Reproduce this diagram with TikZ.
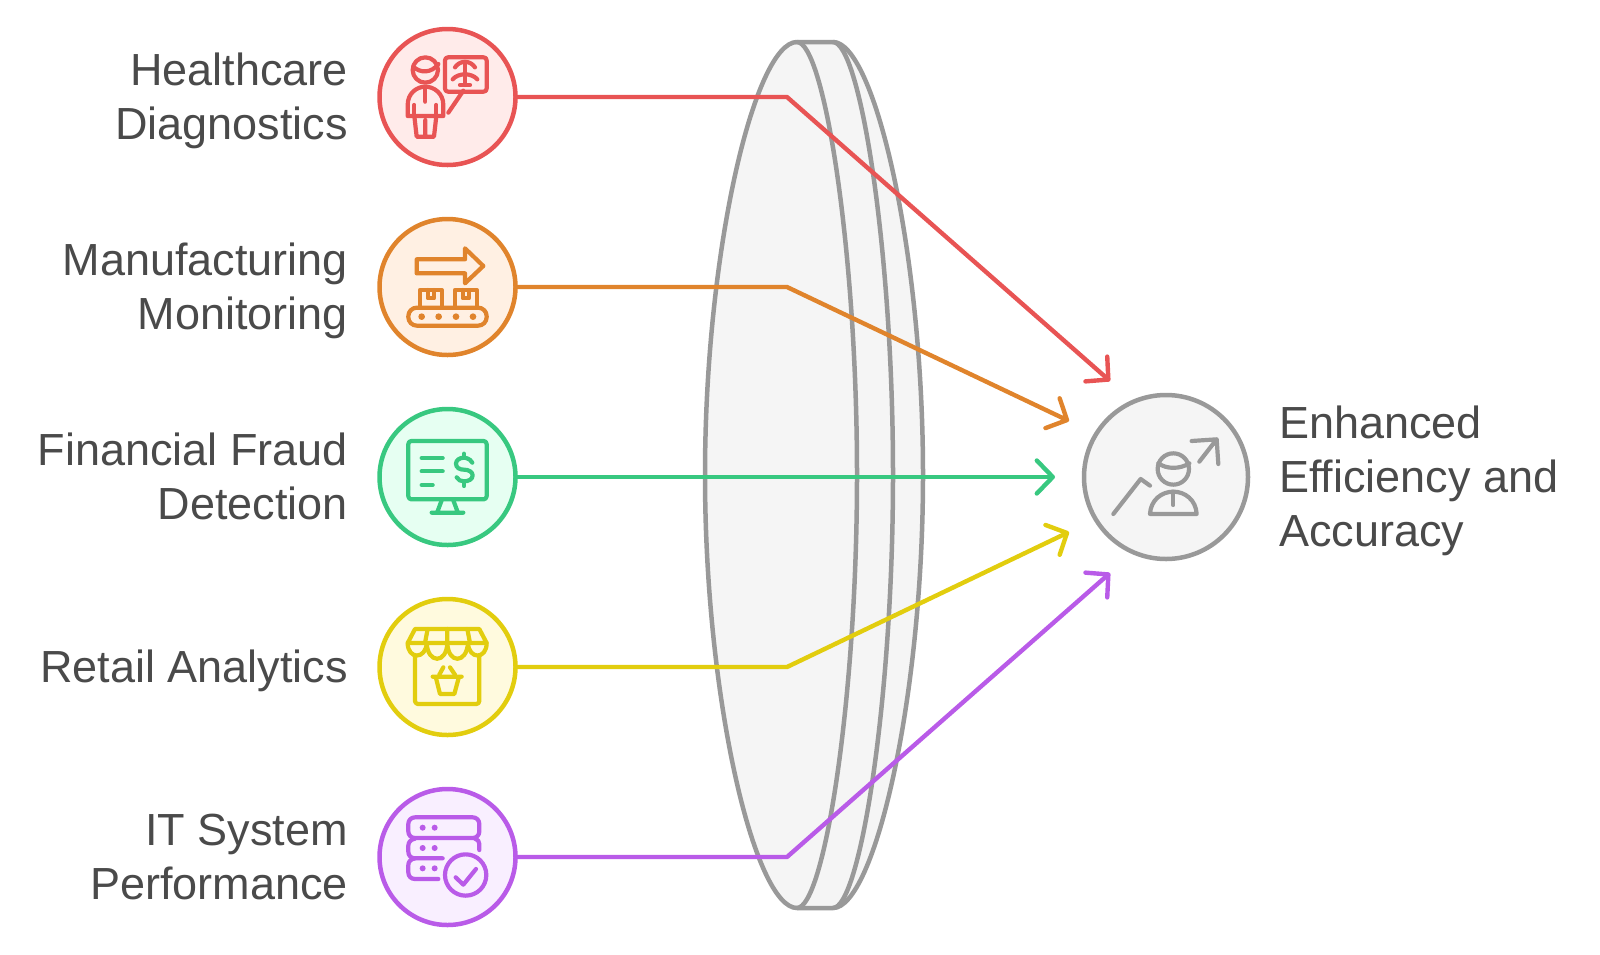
\documentclass[tikz,border=0pt]{standalone}
\usepackage{fontspec}
\setmainfont{Liberation Sans}
\usetikzlibrary{arrows.meta}
\definecolor{cred}{HTML}{E85454}\definecolor{fred}{HTML}{FFEBEA}
\definecolor{corg}{HTML}{E0842C}\definecolor{forg}{HTML}{FFF0E3}
\definecolor{cgrn}{HTML}{38C880}\definecolor{fgrn}{HTML}{E6FFF2}
\definecolor{cyel}{HTML}{E2CD0E}\definecolor{fyel}{HTML}{FFFADE}
\definecolor{cpur}{HTML}{B95BE8}\definecolor{fpur}{HTML}{F9EFFF}
\definecolor{cgry}{HTML}{999999}\definecolor{fgry}{HTML}{F5F5F5}
\definecolor{txt}{HTML}{4A4A4A}
\tikzset{
  disc/.style={circle,draw=#1,line width=4.5pt,minimum size=136pt,inner sep=0pt,outer sep=0pt},
  label text/.style={text=txt,inner sep=0pt,font=\fontsize{45}{54.4}\selectfont},
  left label/.style={label text,anchor=east,align=right},
  link/.style={draw=#1,line width=4.4pt,line join=round,-{Straight Barb[round,length=16pt,width=33pt]}},
  lens/.style={draw=cgry,line width=4.5pt,line join=round},
  icon/.style={draw=#1,line width=4.2pt,line cap=round,line join=round},
  iconpx/.style={x=0.3333pt,y=-0.3333pt},
}
\begin{document}
\begin{tikzpicture}[x=1pt,y=-1pt]
\useasboundingbox (0,0) rectangle (1600,954);
% lens
\path[lens,fill=fgry] (797,42) -- (833,42)
  .. controls (874,42) and (923,250) .. (923,475)
  .. controls (923,700) and (874,908) .. (833,908) -- (797,908)
  .. controls (755,908) and (705,700) .. (705,475)
  .. controls (705,250) and (755,42) .. (797,42) -- cycle;
\path[lens] (833,42) .. controls (860,42) and (893,250) .. (893,475)
  .. controls (893,700) and (860,908) .. (833,908);
\path[lens] (797,42) .. controls (824,42) and (857,250) .. (857,475)
  .. controls (857,700) and (824,908) .. (797,908);
% discs
\node[disc=cred,fill=fred] (c1) at (447.5,97) {};
\node[disc=corg,fill=forg] (c2) at (447.5,287) {};
\node[disc=cgrn,fill=fgrn] (c3) at (447.5,477) {};
\node[disc=cyel,fill=fyel] (c4) at (447.5,667) {};
\node[disc=cpur,fill=fpur] (c5) at (447.5,857) {};
\node[disc=cgry,fill=fgry,minimum size=164pt] (t) at (1166,477) {};
% labels
\node[left label] (l1) at (348,101.6) {\strut Healthcare\\\strut Diagnostics};
\node[left label] (l2) at (348,291.6) {\strut Manufacturing\\\strut Monitoring};
\node[left label] (l3) at (348,481.6) {\strut Financial Fraud\\\strut Detection};
\node[left label] (l4) at (348,671.6) {\strut Retail Analytics};
\node[left label] (l5) at (348,861.6) {\strut IT System\\\strut Performance};
\node[label text,anchor=west,align=left] (l6) at (1279,481.6) {\strut Enhanced\\\strut Efficiency and\\\strut Accuracy};
% connector ends
\coordinate (b1) at (787,97); \coordinate (e1) at (1110,381);
\coordinate (b2) at (787,287); \coordinate (e2) at (1069,421);
\coordinate (e3) at (1055,477);
\coordinate (b4) at (787,667); \coordinate (e4) at (1069,532);
\coordinate (b5) at (787,857); \coordinate (e5) at (1110,573);
\draw[link=cred] (c1.east) -- (b1) -- (e1);
\draw[link=corg] (c2.east) -- (b2) -- (e2);
\draw[link=cgrn] (c3.east) -- (e3);
\draw[link=cyel] (c4.east) -- (b4) -- (e4);
\draw[link=cpur] (c5.east) -- (b5) -- (e5);
% icon 1
\begin{scope}[shift={(360,20)},iconpx,icon=cred]
\draw (196,150) circle[radius=38];
\draw (160,140) .. controls (180,160) and (215,160) .. (235,132);
\draw (143,288) -- (143,255) .. controls (143,220) and (170,200) .. (196,200) .. controls (222,200) and (250,220) .. (250,255) -- (250,288) -- cycle;
\draw (163,255) -- (163,288) (229,255) -- (229,288) (196,205) -- (196,245);
\draw (163,288) -- (170,350) -- (222,350) -- (229,288) (196,300) -- (196,350);
\draw[rounded corners=3pt] (255,112) rectangle (380,215);
\draw (285,142) .. controls (300,120) and (330,120) .. (345,142);
\draw (278,178) .. controls (295,158) and (335,158) .. (352,178);
\draw (315,130) -- (315,195) (300,195) -- (330,195);
\draw (265,278) -- (310,212);
\end{scope}
% icon 2
\begin{scope}[shift={(360,205)},iconpx,icon=corg]
\draw (170,163) -- (315,163) -- (315,130) -- (370,183) -- (315,235) -- (315,205) -- (170,205) -- cycle;
\draw (180,305) -- (180,255) -- (245,255) -- (245,305);
\draw (285,305) -- (285,255) -- (350,255) -- (350,305);
\draw (203,255) -- (203,280) -- (222,280) -- (222,255);
\draw (308,255) -- (308,280) -- (327,280) -- (327,255);
\draw[rounded corners=8.5pt] (145,308) rectangle (380,362);
\foreach \p in {185,236,288,339} \fill[corg] (\p,335) circle[radius=10];
\end{scope}
% icon 3
\begin{scope}[shift={(360,392)},iconpx,icon=cgrn]
\draw[rounded corners=3pt] (145,147) rectangle (380,322);
\draw (185,198) -- (248,198) (185,238) -- (248,238) (185,279) -- (218,279);
\draw (337,212) .. controls (330,198) and (312,197) .. (312,197) .. controls (298,197) and (288,205) .. (288,215) .. controls (288,228) and (300,233) .. (312,233) .. controls (326,233) and (338,240) .. (338,250) .. controls (338,262) and (325,268) .. (312,268) .. controls (302,268) and (294,264) .. (290,256);
\draw (312,185) -- (312,197) (312,268) -- (312,282);
\draw (245,325) -- (232,360) (280,325) -- (293,360) (215,362) -- (310,362);
\end{scope}
% icon 4
\begin{scope}[shift={(360,578)},iconpx,icon=cyel]
\draw (165,153) -- (358,153) -- (380,195) -- (143,195) -- cycle;
\draw (203,153) -- (195,195) (262,153) -- (262,195) (322,153) -- (330,195);
\draw (143,195) .. controls (143,245) and (198,245) .. (200,195);
\draw (200,195) .. controls (203,258) and (260,258) .. (262,195);
\draw (262,195) .. controls (264,258) and (320,258) .. (324,195);
\draw (324,195) .. controls (326,245) and (380,245) .. (380,195);
\draw[rounded corners=3pt] (165,235) -- (165,378) -- (358,378) -- (358,235);
\draw (218,296) -- (305,296) (228,300) -- (240,348) -- (283,348) -- (296,300);
\draw (238,290) -- (250,268) (285,290) -- (270,268);
\end{scope}
% icon 5
\begin{scope}[shift={(360,764)},iconpx,icon=cpur]
\draw[rounded corners=6.5pt] (145,160) rectangle (358,222);
\draw (345,224) .. controls (353,226) and (358,232) .. (358,240) -- (358,258);
\draw (165,224) .. controls (152,226) and (145,235) .. (145,245) -- (145,263) .. controls (145,275) and (153,283) .. (165,283) -- (248,283);
\draw (165,283) .. controls (152,285) and (145,293) .. (145,303) -- (145,325) .. controls (145,337) and (153,345) .. (165,345) -- (235,345);
\foreach \yy in {191,252,313} { \fill[cpur] (188,\yy) circle[radius=9]; \fill[cpur] (224,\yy) circle[radius=9]; }
\draw (317,333) circle[radius=62];
\draw (287,340) -- (310,362) -- (348,315);
\end{scope}
% target icon
\begin{scope}[shift={(1030,350)},iconpx,icon=cgry]
\draw (430,357) circle[radius=47];
\draw (385,340) .. controls (410,358) and (450,358) .. (478,340);
\draw (360,492) .. controls (362,450) and (395,425) .. (430,425) .. controls (465,425) and (498,450) .. (500,492) -- cycle;
\draw (430,425) -- (430,465);
\draw (250,492) -- (332,387) -- (360,407);
\draw (508,335) -- (560,268) (485,273) -- (560,268) -- (565,342);
\end{scope}
\end{tikzpicture}
\end{document}
